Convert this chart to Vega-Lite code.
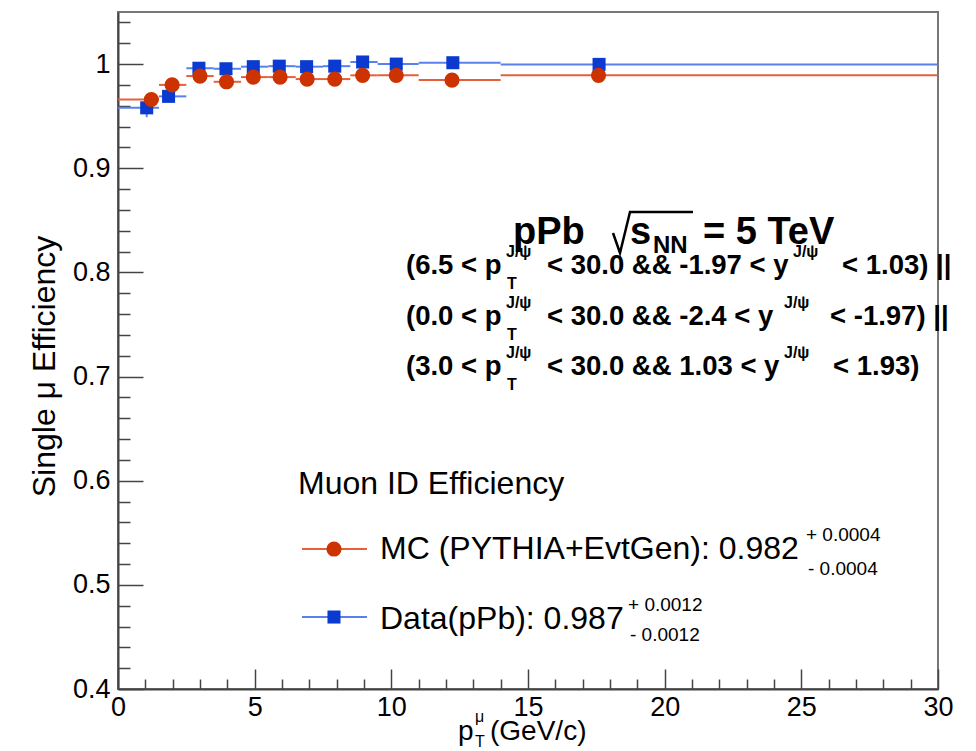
{
"$schema": "https://vega.github.io/schema/vega-lite/v6.json",
"width": 820,
"height": 677,
"autosize": {"type": "none"},
"padding": {"left": 118, "top": 12, "right": 38, "bottom": 62},
"background": "white",
"config": {"view": {"stroke": "#777", "strokeWidth": 2}, "font": "Liberation Sans"},
"resolve": {"axis": {"x": "independent", "y": "independent"}},
"datasets": {
"bins": [
{"series": "Data", "pt": 1.05, "lo": 0, "hi": 1.5, "eff": 0.958, "elo": 0.949, "ehi": 0.966},
{"series": "Data", "pt": 1.85, "lo": 1.5, "hi": 2.5, "eff": 0.969, "elo": 0.964, "ehi": 0.974},
{"series": "Data", "pt": 2.96, "lo": 2.5, "hi": 3.5, "eff": 0.996, "elo": 0.993, "ehi": 0.999},
{"series": "Data", "pt": 3.95, "lo": 3.5, "hi": 4.5, "eff": 0.9955, "elo": 0.993, "ehi": 0.998},
{"series": "Data", "pt": 4.95, "lo": 4.5, "hi": 5.5, "eff": 0.9975, "elo": 0.995, "ehi": 1.0},
{"series": "Data", "pt": 5.9, "lo": 5.5, "hi": 6.5, "eff": 0.998, "elo": 0.996, "ehi": 1.0},
{"series": "Data", "pt": 6.9, "lo": 6.5, "hi": 7.5, "eff": 0.9975, "elo": 0.995, "ehi": 1.0},
{"series": "Data", "pt": 7.93, "lo": 7.5, "hi": 8.5, "eff": 0.998, "elo": 0.996, "ehi": 1.0},
{"series": "Data", "pt": 8.95, "lo": 8.5, "hi": 9.5, "eff": 1.002, "elo": 1.0, "ehi": 1.004},
{"series": "Data", "pt": 10.18, "lo": 9.5, "hi": 11, "eff": 1.0, "elo": 0.998, "ehi": 1.002},
{"series": "Data", "pt": 12.25, "lo": 11, "hi": 14, "eff": 1.0013, "elo": 0.999, "ehi": 1.003},
{"series": "Data", "pt": 17.6, "lo": 14, "hi": 30, "eff": 0.9997, "elo": 0.998, "ehi": 1.001},
{"series": "MC", "pt": 1.22, "lo": 0, "hi": 1.5, "eff": 0.966, "elo": 0.964, "ehi": 0.968},
{"series": "MC", "pt": 1.98, "lo": 1.5, "hi": 2.5, "eff": 0.98, "elo": 0.978, "ehi": 0.982},
{"series": "MC", "pt": 3.0, "lo": 2.5, "hi": 3.5, "eff": 0.9885, "elo": 0.987, "ehi": 0.99},
{"series": "MC", "pt": 3.97, "lo": 3.5, "hi": 4.5, "eff": 0.983, "elo": 0.981, "ehi": 0.985},
{"series": "MC", "pt": 4.95, "lo": 4.5, "hi": 5.5, "eff": 0.9875, "elo": 0.986, "ehi": 0.989},
{"series": "MC", "pt": 5.93, "lo": 5.5, "hi": 6.5, "eff": 0.9875, "elo": 0.986, "ehi": 0.989},
{"series": "MC", "pt": 6.92, "lo": 6.5, "hi": 7.5, "eff": 0.9856, "elo": 0.984, "ehi": 0.987},
{"series": "MC", "pt": 7.93, "lo": 7.5, "hi": 8.5, "eff": 0.9856, "elo": 0.984, "ehi": 0.987},
{"series": "MC", "pt": 8.95, "lo": 8.5, "hi": 9.5, "eff": 0.9892, "elo": 0.988, "ehi": 0.991},
{"series": "MC", "pt": 10.18, "lo": 9.5, "hi": 11, "eff": 0.9892, "elo": 0.988, "ehi": 0.991},
{"series": "MC", "pt": 12.22, "lo": 11, "hi": 14, "eff": 0.9846, "elo": 0.983, "ehi": 0.986},
{"series": "MC", "pt": 17.58, "lo": 14, "hi": 30, "eff": 0.9892, "elo": 0.988, "ehi": 0.991}
],
"leg": [
{"series": "MC", "x1": 6.732, "x2": 9.11, "xm": 7.902, "y": 0.5344},
{"series": "Data", "x1": 6.732, "x2": 9.11, "xm": 7.902, "y": 0.4691}
],
"sqrt": [
{"o": 1, "x": 18.11, "y": 0.8378},
{"o": 2, "x": 18.366, "y": 0.8186},
{"o": 3, "x": 18.732, "y": 0.858},
{"o": 4, "x": 21.037, "y": 0.858}
],
"ann": [
{"g": "head", "t": "pPb", "x": 14.451, "y": 0.8272},
{"g": "head", "t": "s", "x": 18.732, "y": 0.8272},
{"g": "headsub", "t": "NN", "x": 19.573, "y": 0.8186},
{"g": "head", "t": "= 5 TeV", "x": 21.402, "y": 0.8272},
{"g": "cond", "t": "(6.5 < p", "x": 10.537, "y": 0.7984},
{"g": "condsup", "t": "J/ψ", "x": 14.195, "y": 0.8148},
{"g": "condsup", "t": "T", "x": 14.232, "y": 0.784},
{"g": "cond", "t": "< 30.0 && -1.97 < y", "x": 15.695, "y": 0.7984},
{"g": "condsup", "t": "J/ψ", "x": 24.695, "y": 0.8148},
{"g": "cond", "t": "< 1.03) ||", "x": 26.488, "y": 0.7984},
{"g": "cond", "t": "(0.0 < p", "x": 10.537, "y": 0.7495},
{"g": "condsup", "t": "J/ψ", "x": 14.195, "y": 0.7658},
{"g": "condsup", "t": "T", "x": 14.232, "y": 0.7351},
{"g": "cond", "t": "< 30.0 && -2.4 < y", "x": 15.695, "y": 0.7495},
{"g": "condsup", "t": "J/ψ", "x": 24.366, "y": 0.7658},
{"g": "cond", "t": "< -1.97) ||", "x": 26.05, "y": 0.7495},
{"g": "cond", "t": "(3.0 < p", "x": 10.537, "y": 0.7015},
{"g": "condsup", "t": "J/ψ", "x": 14.195, "y": 0.7178},
{"g": "condsup", "t": "T", "x": 14.232, "y": 0.6871},
{"g": "cond", "t": "< 30.0 && 1.03 < y", "x": 15.695, "y": 0.7015},
{"g": "condsup", "t": "J/ψ", "x": 24.366, "y": 0.7178},
{"g": "cond", "t": "< 1.93)", "x": 26.159, "y": 0.7015},
{"g": "leg", "t": "Muon ID Efficiency", "x": 6.585, "y": 0.5872},
{"g": "leg", "t": "MC (PYTHIA+EvtGen): 0.982", "x": 9.585, "y": 0.5248},
{"g": "legsmall", "t": "+ 0.0004", "x": 25.17, "y": 0.5421},
{"g": "legsmall", "t": "- 0.0004", "x": 25.244, "y": 0.5094},
{"g": "leg", "t": "Data(pPb): 0.987", "x": 9.585, "y": 0.4576},
{"g": "legsmall", "t": "+ 0.0012", "x": 18.659, "y": 0.4749},
{"g": "legsmall", "t": "- 0.0012", "x": 18.732, "y": 0.4461},
{"g": "xt", "t": "p", "x": 12.439, "y": 0.3510},
{"g": "xtsmall", "t": "μ", "x": 13.061, "y": 0.3683},
{"g": "xtsmall", "t": "T", "x": 13.061, "y": 0.3443},
{"g": "xt", "t": "(GeV/c)", "x": 13.61, "y": 0.3510}
]
},
"layer": [
{
"data": {"name": "bins"},
"mark": {"type": "rule", "strokeWidth": 2},
"encoding": {
"x": {"field": "lo", "type": "quantitative", "scale": {"domain": [0, 30], "nice": false, "zero": false},
"axis": {"orient": "bottom", "title": null, "values": [0,1,2,3,4,5,6,7,8,9,10,11,12,13,14,15,16,17,18,19,20,21,22,23,24,25,26,27,28,29,30],
"labelExpr": "datum.value % 5 === 0 ? format(datum.value, 'd') : ''",
"tickSize": {"condition": {"test": "datum.value % 5 === 0", "value": -20}, "value": -10},
"tickColor": "#444", "tickWidth": 1.5, "domainColor": "#444", "domainWidth": 2,
"labelFont": "Liberation Sans", "labelFontSize": 27, "labelColor": "black", "labelPadding": 25,
"labelFlush": false, "labelOverlap": false, "labelBound": false, "grid": false}},
"x2": {"field": "hi"},
"y": {"field": "eff", "type": "quantitative", "scale": {"domain": [0.4, 1.05], "nice": false, "zero": false},
"axis": {"orient": "left", "title": "Single μ Efficiency", "titleFont": "Liberation Sans", "titleFontSize": 32, "titleFontWeight": "normal", "titleColor": "black",
"titleX": -64, "titleY": 354, "titleAngle": -90, "titleAlign": "center", "titleBaseline": "alphabetic",
"values": [0.4,0.42,0.44,0.46,0.48,0.5,0.52,0.54,0.56,0.58,0.6,0.62,0.64,0.66,0.68,0.7,0.72,0.74,0.76,0.78,0.8,0.82,0.84,0.86,0.88,0.9,0.92,0.94,0.96,0.98,1,1.02,1.04],
"labelExpr": "abs(datum.value*10 - round(datum.value*10)) < 0.001 ? format(datum.value, '~g') : ''",
"tickSize": {"condition": {"test": "abs(datum.value*10 - round(datum.value*10)) < 0.001", "value": -25}, "value": -12},
"tickColor": "#444", "tickWidth": 1.5, "domainColor": "#444", "domainWidth": 2,
"labelFont": "Liberation Sans", "labelFontSize": 27, "labelColor": "black", "labelPadding": 33,
"labelFlush": false, "labelOverlap": false, "labelBound": false, "grid": false}},
"stroke": {"field": "series", "type": "nominal", "scale": {"domain": ["MC", "Data"], "range": ["#e5603a", "#5a80ec"]}, "legend": null}
}
},
{
"data": {"name": "bins"},
"mark": {"type": "rule", "strokeWidth": 2},
"encoding": {
"x": {"field": "pt", "type": "quantitative", "axis": null},
"y": {"field": "elo", "type": "quantitative", "axis": null},
"y2": {"field": "ehi"},
"stroke": {"field": "series", "type": "nominal", "legend": null}
}
},
{
"data": {"name": "leg"},
"mark": {"type": "rule", "strokeWidth": 2},
"encoding": {
"x": {"field": "x1", "type": "quantitative", "axis": null},
"x2": {"field": "x2"},
"y": {"field": "y", "type": "quantitative", "axis": null},
"stroke": {"field": "series", "type": "nominal", "legend": null}
}
},
{
"data": {"name": "bins"},
"mark": {"type": "point", "filled": true, "opacity": 1},
"encoding": {
"x": {"field": "pt", "type": "quantitative", "axis": null},
"y": {"field": "eff", "type": "quantitative", "axis": null},
"fill": {"field": "series", "type": "nominal", "scale": {"domain": ["MC", "Data"], "range": ["#cc3300", "#0a3ad0"]}, "legend": null},
"shape": {"field": "series", "type": "nominal", "scale": {"domain": ["MC", "Data"], "range": ["circle", "square"]}, "legend": null},
"size": {"field": "series", "type": "nominal", "scale": {"domain": ["MC", "Data"], "range": [230, 170]}, "legend": null}
}
},
{
"data": {"name": "leg"},
"mark": {"type": "point", "filled": true, "opacity": 1},
"encoding": {
"x": {"field": "xm", "type": "quantitative", "axis": null},
"y": {"field": "y", "type": "quantitative", "axis": null},
"fill": {"field": "series", "type": "nominal", "legend": null},
"shape": {"field": "series", "type": "nominal", "legend": null},
"size": {"field": "series", "type": "nominal", "legend": null}
}
},
{
"data": {"name": "sqrt"},
"mark": {"type": "line", "color": "black", "strokeWidth": 2.5},
"encoding": {
"x": {"field": "x", "type": "quantitative", "axis": null},
"y": {"field": "y", "type": "quantitative", "axis": null},
"order": {"field": "o", "type": "quantitative"}
}
},
{
"data": {"name": "ann"},
"transform": [{"filter": {"field": "g", "equal": "head"}}],
"mark": {"type": "text", "font": "Liberation Sans", "fontWeight": "bold", "fontSize": 38, "align": "left", "baseline": "alphabetic", "color": "black"},
"encoding": {"x": {"field": "x", "type": "quantitative", "axis": null}, "y": {"field": "y", "type": "quantitative", "axis": null}, "text": {"field": "t"}}
},
{
"data": {"name": "ann"},
"transform": [{"filter": {"field": "g", "equal": "headsub"}}],
"mark": {"type": "text", "font": "Liberation Sans", "fontWeight": "bold", "fontSize": 24, "align": "left", "baseline": "alphabetic", "color": "black"},
"encoding": {"x": {"field": "x", "type": "quantitative", "axis": null}, "y": {"field": "y", "type": "quantitative", "axis": null}, "text": {"field": "t"}}
},
{
"data": {"name": "ann"},
"transform": [{"filter": {"field": "g", "equal": "cond"}}],
"mark": {"type": "text", "font": "Liberation Sans", "fontWeight": "bold", "fontSize": 27.5, "align": "left", "baseline": "alphabetic", "color": "black"},
"encoding": {"x": {"field": "x", "type": "quantitative", "axis": null}, "y": {"field": "y", "type": "quantitative", "axis": null}, "text": {"field": "t"}}
},
{
"data": {"name": "ann"},
"transform": [{"filter": {"field": "g", "equal": "condsup"}}],
"mark": {"type": "text", "font": "Liberation Sans", "fontWeight": "bold", "fontSize": 16, "align": "left", "baseline": "alphabetic", "color": "black"},
"encoding": {"x": {"field": "x", "type": "quantitative", "axis": null}, "y": {"field": "y", "type": "quantitative", "axis": null}, "text": {"field": "t"}}
},
{
"data": {"name": "ann"},
"transform": [{"filter": {"field": "g", "equal": "leg"}}],
"mark": {"type": "text", "font": "Liberation Sans", "fontSize": 32, "align": "left", "baseline": "alphabetic", "color": "black"},
"encoding": {"x": {"field": "x", "type": "quantitative", "axis": null}, "y": {"field": "y", "type": "quantitative", "axis": null}, "text": {"field": "t"}}
},
{
"data": {"name": "ann"},
"transform": [{"filter": {"field": "g", "equal": "legsmall"}}],
"mark": {"type": "text", "font": "Liberation Sans", "fontSize": 19, "align": "left", "baseline": "alphabetic", "color": "black"},
"encoding": {"x": {"field": "x", "type": "quantitative", "axis": null}, "y": {"field": "y", "type": "quantitative", "axis": null}, "text": {"field": "t"}}
},
{
"data": {"name": "ann"},
"transform": [{"filter": {"field": "g", "equal": "xt"}}],
"mark": {"type": "text", "font": "Liberation Sans", "fontSize": 28, "align": "left", "baseline": "alphabetic", "color": "black"},
"encoding": {"x": {"field": "x", "type": "quantitative", "axis": null}, "y": {"field": "y", "type": "quantitative", "axis": null}, "text": {"field": "t"}}
},
{
"data": {"name": "ann"},
"transform": [{"filter": {"field": "g", "equal": "xtsmall"}}],
"mark": {"type": "text", "font": "Liberation Sans", "fontSize": 16, "align": "left", "baseline": "alphabetic", "color": "black"},
"encoding": {"x": {"field": "x", "type": "quantitative", "axis": null}, "y": {"field": "y", "type": "quantitative", "axis": null}, "text": {"field": "t"}}
}
]
}
